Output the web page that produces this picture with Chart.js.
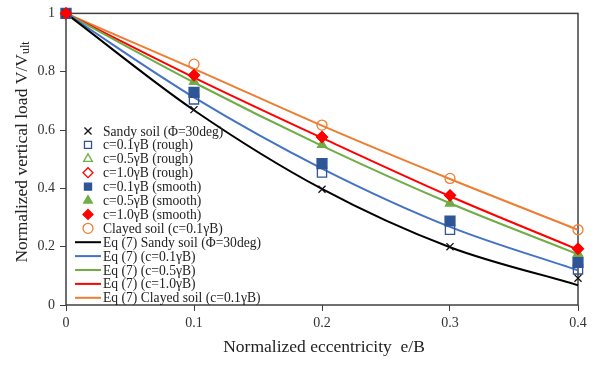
<!DOCTYPE html>
<html>
<head>
<meta charset="utf-8">
<script src="https://cdn.jsdelivr.net/npm/chart.js"></script>
<style>
  html, body { margin: 0; padding: 0; background: #fff; }
  #wrap { width: 598px; height: 365px; }
</style>
</head>
<body>
<div id="wrap"><canvas id="myChart" width="598" height="365"></canvas></div>
<script>
// Dados
const ecc = [0, 0.1, 0.2, 0.3, 0.4];
const xTicks = [0, 0.1, 0.2, 0.3, 0.4];
const yTicks = [0, 0.2, 0.4, 0.6, 0.8, 1];

const sandyPts    = [1, 0.670, 0.397, 0.200, 0.092];
const c01Rough    = [1, 0.705, 0.454, 0.258, 0.122];
const c05Rough    = [1, 0.766, 0.549, 0.349, 0.176];
const c10Rough    = [1, 0.788, 0.576, 0.376, 0.193];
const c01Smooth   = [1, 0.729, 0.485, 0.288, 0.146];
const c05Smooth   = [1, 0.766, 0.549, 0.349, 0.176];
const c10Smooth   = [1, 0.788, 0.576, 0.376, 0.193];
const clayPts     = [1, 0.826, 0.617, 0.434, 0.258];

const eqSandy = [1, 0.668, 0.398, 0.198, 0.068];
const eqC01   = [1, 0.712, 0.468, 0.268, 0.119];
const eqC05   = [1, 0.763, 0.546, 0.349, 0.174];
const eqC10   = [1, 0.780, 0.573, 0.373, 0.190];
const eqClay  = [1, 0.810, 0.615, 0.432, 0.258];

const ctx = document.getElementById('myChart');
const serif = "'Liberation Serif', 'Times New Roman', serif";

function pts(vals) {
  return vals.map((v, i) => ({ x: ecc[i], y: v }));
}

function markerSet(label, vals, style, color, filled, radius, order) {
  return {
    label: label, data: pts(vals), showLine: false,
    pointStyle: style, pointRadius: radius, pointHoverRadius: radius,
    borderColor: color, backgroundColor: filled ? color : 'rgba(0,0,0,0)',
    pointBorderWidth: 1.3, clip: false, order: order || 1
  };
}

function lineSet(label, vals, color) {
  return {
    label: label, data: pts(vals), showLine: true, pointRadius: 0,
    borderColor: color, backgroundColor: color, borderWidth: 2,
    cubicInterpolationMode: 'monotone', fill: false, isLine: true, order: 2
  };
}

const datasets = [
  markerSet('Sandy soil (Φ=30deg)', sandyPts, 'crossRot', '#111111', false, 5),
  markerSet('c=0.1γB (rough)', c01Rough, 'rect', '#2F5597', false, 6.5),
  markerSet('c=0.5γB (rough)', c05Rough, 'triangle', '#70AD47', false, 5),
  markerSet('c=1.0γB (rough)', c10Rough, 'rectRot', '#FF0000', false, 5),
  markerSet('c=0.1γB (smooth)', c01Smooth, 'rect', '#2F5597', true, 7),
  markerSet('c=0.5γB (smooth)', c05Smooth, 'triangle', '#70AD47', true, 5),
  markerSet('c=1.0γB (smooth)', c10Smooth, 'rectRot', '#FF0000', true, 5.5, -1),
  markerSet('Clayed soil (c=0.1γB)', clayPts, 'circle', '#ED7D31', false, 5),
  lineSet('Eq (7) Sandy soil (Φ=30deg)', eqSandy, '#000000'),
  lineSet('Eq (7) (c=0.1γB)', eqC01, '#4472C4'),
  lineSet('Eq (7) (c=0.5γB)', eqC05, '#70AD47'),
  lineSet('Eq (7) (c=1.0γB)', eqC10, '#FF0000'),
  lineSet('Eq (7) Clayed soil (c=0.1γB)', eqClay, '#ED7D31')
];

// moldura, legenda e títulos dos eixos
const extras = {
  id: 'extras',
  beforeDatasetsDraw(chart) {
    const a = chart.chartArea, c = chart.ctx;
    c.save();
    c.strokeStyle = '#404040';
    c.lineWidth = 1.5;
    c.strokeRect(a.left, a.top, a.right - a.left, a.bottom - a.top);
    c.restore();
  },
  afterDraw(chart) {
    const c = chart.ctx;
    c.save();
    c.fillStyle = '#222';
    c.textBaseline = 'middle';
    c.font = '13.6px ' + serif;
    let y = 131;
    chart.data.datasets.forEach(ds => {
      if (ds.isLine) {
        c.strokeStyle = ds.borderColor;
        c.lineWidth = 2;
        c.beginPath();
        c.moveTo(75, y);
        c.lineTo(101, y);
        c.stroke();
      } else {
        c.strokeStyle = ds.borderColor;
        c.fillStyle = ds.backgroundColor;
        c.lineWidth = 1.3;
        Chart.helpers.drawPoint(c, {
          pointStyle: ds.pointStyle, radius: Math.min(ds.pointRadius, 5), borderWidth: 1.3
        }, 88, y);
      }
      c.fillStyle = '#222';
      c.fillText(ds.label, 103, y + 1);
      y += 13.9;
    });

    // titulo eixo x
    c.font = '17.5px ' + serif;
    c.textAlign = 'center';
    c.fillText('Normalized eccentricity  e/B', 324, 347);

    // titulo eixo y (com subscrito)
    c.translate(22, 152);
    c.rotate(-Math.PI / 2);
    const main = 'Normalized vertical load V/V';
    c.font = '17.5px ' + serif;
    const w1 = c.measureText(main).width;
    c.font = '12px ' + serif;
    const w2 = c.measureText('ult').width;
    const x0 = -(w1 + w2) / 2;
    c.textAlign = 'left';
    c.font = '17.5px ' + serif;
    c.fillText(main, x0, 0);
    c.font = '12px ' + serif;
    c.fillText('ult', x0 + w1, 4);
    c.restore();
  }
};

const fmt = v => String(+Number(v).toFixed(2));

new Chart(ctx, {
  type: 'scatter',
  data: { datasets: datasets },
  options: {
    responsive: false,
    animation: false,
    layout: { padding: { top: 10, right: 20, left: 0, bottom: 0 } },
    plugins: { legend: { display: false }, tooltip: { enabled: false } },
    scales: {
      x: {
        type: 'linear', min: 0, max: 0.4,
        afterBuildTicks: s => { s.ticks = xTicks.map(v => ({ value: v })); },
        afterFit: s => { s.height = 60; },
        grid: { drawOnChartArea: false, tickLength: 6, color: '#404040' },
        border: { display: false },
        ticks: { color: '#333', font: { family: serif, size: 14 }, padding: 4, callback: fmt }
      },
      y: {
        type: 'linear', min: 0, max: 1,
        afterBuildTicks: s => { s.ticks = yTicks.map(v => ({ value: v })); },
        afterFit: s => { s.width = 66; },
        grid: { drawOnChartArea: false, tickLength: 6, color: '#404040' },
        border: { display: false },
        ticks: { color: '#333', font: { family: serif, size: 14 }, padding: 5, callback: fmt }
      }
    }
  },
  plugins: [extras]
});
</script>
</body>
</html>
